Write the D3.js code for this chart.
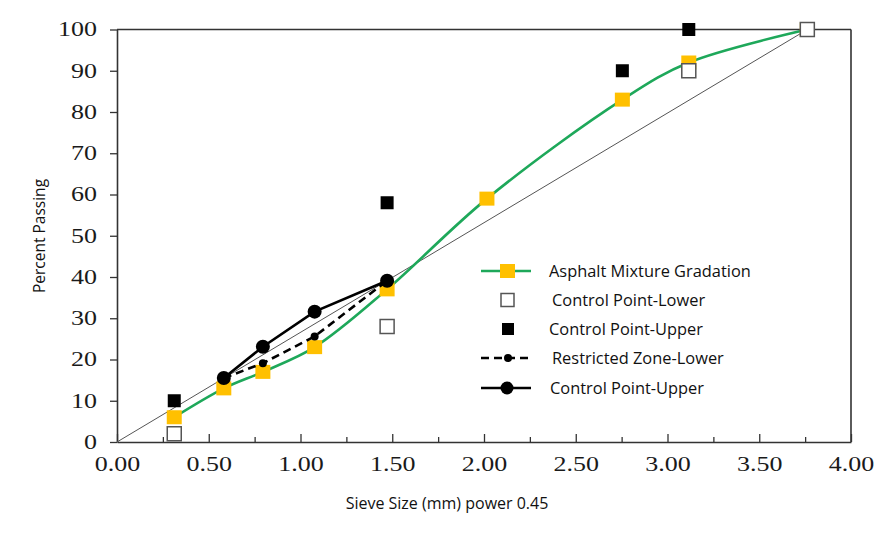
<!DOCTYPE html>
<html><head><meta charset="utf-8">
<script src="https://cdn.jsdelivr.net/npm/d3@7/dist/d3.min.js"></script>
<style>
html,body{margin:0;padding:0;background:#fff;}
svg{display:block;}
</style>
</head><body>
<svg id="chart" width="896" height="537"></svg>
<script>
// ---- data ----
const sieveX = [0.312, 0.582, 0.795, 1.077, 1.472, 2.016, 2.754, 3.116, 3.762];
const mixture = [6, 13, 17, 23, 37, 59, 83, 92, 100];
const ctrlLowerX = [0.312, 1.472, 3.116, 3.762];
const ctrlLower = [2, 28, 90, 100];
const ctrlUpperX = [0.312, 1.472, 2.754, 3.116];
const ctrlUpper = [10, 58, 90, 100];
const rzX = [0.582, 0.795, 1.077, 1.472];
const rzLower = [15.5, 19.1, 25.6, 39.1];
const rzUpper = [15.5, 23.1, 31.6, 39.1];
const maxDensityX = [0, 3.762];
const maxDensityY = [0, 100];
const xTicks = [0, 0.5, 1, 1.5, 2, 2.5, 3, 3.5, 4];
const xMinorTicks = [0.25, 0.75, 1.25, 1.75, 2.25, 2.75, 3.25, 3.75];
const yTicks = [0, 10, 20, 30, 40, 50, 60, 70, 80, 90, 100];
const legendLabels = ["Asphalt Mixture Gradation", "Control Point-Lower", "Control Point-Upper", "Restricted Zone-Lower", "Control Point-Upper"];

const svg = d3.select("#chart");
const L = 117, R = 851, T = 29.5, B = 442;
const x = d3.scaleLinear().domain([0, 4]).range([L, R]);
const y = d3.scaleLinear().domain([0, 100]).range([B, T]);

const GREEN = "#1ea85a", YELLOW = "#ffc000", AXIS = "#333";
const serif = "'Liberation Serif','Times New Roman',serif";
const sans = "'Open Sans','Noto Sans',sans-serif";

// frame (top/right)
svg.append("line").attr("x1", x(0)).attr("x2", x(4)).attr("y1", y(100)).attr("y2", y(100))
  .attr("stroke", AXIS).attr("stroke-width", 1.6);
svg.append("line").attr("x1", x(4)).attr("x2", x(4)).attr("y1", y(0)).attr("y2", y(100))
  .attr("stroke", AXIS).attr("stroke-width", 1.6);

// axes
function stretch(sel, f){
  sel.each(function(){
    const w = this.getComputedTextLength();
    d3.select(this).attr("textLength", w * f).attr("lengthAdjust", "spacingAndGlyphs");
  });
}
const xMinor = svg.append("g").attr("transform", `translate(0,${B})`)
  .call(d3.axisBottom(x).tickValues(xMinorTicks).tickSize(-5).tickFormat(""));
xMinor.select(".domain").remove();
xMinor.selectAll("line").attr("stroke", AXIS).attr("stroke-width", 1.3);

const xAxis = svg.append("g").attr("transform", `translate(0,${B})`)
  .call(d3.axisBottom(x).tickValues(xTicks).tickSizeInner(-8).tickSizeOuter(0).tickPadding(15)
    .tickFormat(d3.format(".2f")));
xAxis.select(".domain").attr("stroke", AXIS).attr("stroke-width", 1.6);
xAxis.selectAll("line").attr("stroke", AXIS).attr("stroke-width", 1.3);
xAxis.selectAll("text").attr("font-family", serif).attr("font-size", 20).attr("fill", "#1a1a1a")
  .call(stretch, 1.3);

const yAxis = svg.append("g").attr("transform", `translate(${L},0)`)
  .call(d3.axisLeft(y).tickValues(yTicks).tickSizeInner(7).tickSizeOuter(0).tickPadding(13));
yAxis.select(".domain").attr("stroke", AXIS).attr("stroke-width", 1.6);
yAxis.selectAll("line").attr("stroke", AXIS).attr("stroke-width", 1.3);
yAxis.selectAll("text").attr("font-family", serif).attr("font-size", 20).attr("fill", "#1a1a1a")
  .call(stretch, 1.3);

// axis titles
svg.append("text").attr("x", 447).attr("y", 503).attr("text-anchor", "middle")
  .attr("dominant-baseline", "central").attr("font-family", sans).attr("font-size", 16)
  .attr("fill", "#111").text("Sieve Size (mm) power 0.45");
svg.append("text").attr("transform", "translate(39,236) rotate(-90)").attr("text-anchor", "middle")
  .attr("dominant-baseline", "central").attr("font-family", sans).attr("font-size", 15.5)
  .attr("fill", "#111").text("Percent Passing");

// max density line
svg.append("line").attr("x1", x(maxDensityX[0])).attr("y1", y(maxDensityY[0]))
  .attr("x2", x(maxDensityX[1])).attr("y2", y(maxDensityY[1]))
  .attr("stroke", "#555").attr("stroke-width", 1);

// mixture gradation
const mix = sieveX.map((v, i) => [v, mixture[i]]);
svg.append("path").datum(mix)
  .attr("d", d3.line().x(d => x(d[0])).y(d => y(d[1])).curve(d3.curveCatmullRom.alpha(0.5)))
  .attr("fill", "none").attr("stroke", GREEN).attr("stroke-width", 2.6);
svg.selectAll(".mixpt").data(mix).join("rect").attr("class", "mixpt")
  .attr("x", d => x(d[0]) - 7.5).attr("y", d => y(d[1]) - 7).attr("width", 15).attr("height", 14)
  .attr("fill", YELLOW);

// control points
svg.selectAll(".cpl").data(ctrlLowerX.map((v, i) => [v, ctrlLower[i]])).join("rect").attr("class", "cpl")
  .attr("x", d => x(d[0]) - 7).attr("y", d => y(d[1]) - 7).attr("width", 14).attr("height", 14)
  .attr("fill", "#fff").attr("stroke", "#555").attr("stroke-width", 1.5);
svg.selectAll(".cpu").data(ctrlUpperX.map((v, i) => [v, ctrlUpper[i]])).join("rect").attr("class", "cpu")
  .attr("x", d => x(d[0]) - 6.5).attr("y", d => y(d[1]) - 6.5).attr("width", 13).attr("height", 13)
  .attr("fill", "#000");

// restricted zone
const rzl = rzX.map((v, i) => [v, rzLower[i]]);
const rzu = rzX.map((v, i) => [v, rzUpper[i]]);
const lin = d3.line().x(d => x(d[0])).y(d => y(d[1]));
svg.append("path").datum(rzl).attr("d", lin).attr("fill", "none").attr("stroke", "#000")
  .attr("stroke-width", 2.6).attr("stroke-dasharray", "8,5");
svg.selectAll(".rzlpt").data(rzl).join("circle").attr("class", "rzlpt")
  .attr("cx", d => x(d[0])).attr("cy", d => y(d[1])).attr("r", 4).attr("fill", "#000");
svg.append("path").datum(rzu).attr("d", lin).attr("fill", "none").attr("stroke", "#000")
  .attr("stroke-width", 2.6);
svg.selectAll(".rzupt").data(rzu).join("circle").attr("class", "rzupt")
  .attr("cx", d => x(d[0])).attr("cy", d => y(d[1])).attr("r", 7).attr("fill", "#000");

// legend
const lgY = [271, 300, 329, 358, 388];
const lgTextX = [549, 552, 549, 552, 550];
const lg = svg.append("g");
lg.append("line").attr("x1", 481).attr("x2", 531).attr("y1", lgY[0]).attr("y2", lgY[0])
  .attr("stroke", GREEN).attr("stroke-width", 2.6);
lg.append("rect").attr("x", 500).attr("y", lgY[0] - 7).attr("width", 15).attr("height", 14).attr("fill", YELLOW);
lg.append("rect").attr("x", 501).attr("y", lgY[1] - 6.5).attr("width", 13).attr("height", 13)
  .attr("fill", "#fff").attr("stroke", "#555").attr("stroke-width", 1.5);
lg.append("rect").attr("x", 502).attr("y", lgY[2] - 6).attr("width", 12).attr("height", 12).attr("fill", "#000");
lg.append("line").attr("x1", 481).attr("x2", 531).attr("y1", lgY[3]).attr("y2", lgY[3])
  .attr("stroke", "#000").attr("stroke-width", 2.6).attr("stroke-dasharray", "8,5");
lg.append("circle").attr("cx", 508).attr("cy", lgY[3]).attr("r", 4).attr("fill", "#000");
lg.append("line").attr("x1", 481).attr("x2", 531).attr("y1", lgY[4]).attr("y2", lgY[4])
  .attr("stroke", "#000").attr("stroke-width", 2.6);
lg.append("circle").attr("cx", 507).attr("cy", lgY[4]).attr("r", 6.5).attr("fill", "#000");
lg.selectAll("text").data(legendLabels).join("text")
  .attr("x", (d, i) => lgTextX[i]).attr("y", (d, i) => lgY[i] - 1)
  .attr("dominant-baseline", "central").attr("font-family", sans).attr("font-size", 16.4)
  .attr("fill", "#111").text(d => d);
</script>
</body></html>
